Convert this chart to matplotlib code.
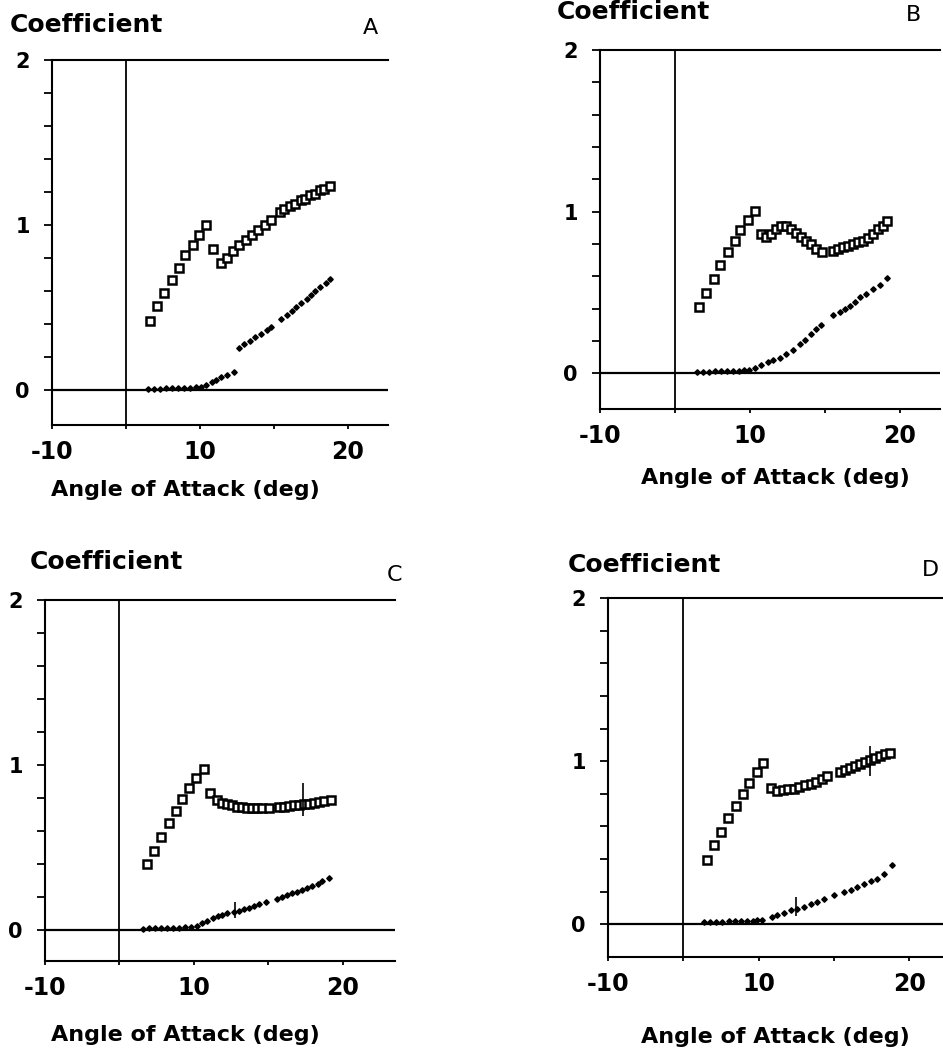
import numpy as np
import matplotlib
matplotlib.use('Agg')
import matplotlib.pyplot as plt

# lift (squares) and drag (small dots) coefficient vs angle of attack, four cases

x_ticks = [0, 5, 10, 15, 20]
x_tick_labels = ['-10', '', '10', '', '20']
y_ticks = [0, 1, 2]
y_tick_labels = ['0', '1', '2']
panel_names = ['A', 'B', 'C', 'D']

# panel A
a_cl_x = [6.6, 7.1, 7.6, 8.1, 8.6, 9.0, 9.5, 9.9, 10.4, 10.9, 11.4, 11.8, 12.2, 12.6, 13.1,
          13.5, 13.9, 14.4, 14.8, 15.4, 15.7, 16.1, 16.4, 16.8, 17.1, 17.4, 17.8, 18.1, 18.4, 18.8]
a_cl_y = [0.42, 0.51, 0.59, 0.67, 0.74, 0.82, 0.88, 0.94, 1.00, 0.855, 0.77, 0.80, 0.845, 0.88, 0.91,
          0.94, 0.97, 1.00, 1.03, 1.08, 1.10, 1.115, 1.13, 1.15, 1.16, 1.18, 1.19, 1.21, 1.22, 1.24]
a_cd_x = [6.5, 6.9, 7.3, 7.7, 8.1, 8.5, 8.9, 9.3, 9.7, 10.1, 10.4, 10.8, 11.1, 11.45, 11.8, 12.3,
          12.6, 13.0, 13.4, 13.7, 14.1, 14.5, 14.8,
          15.5, 15.9, 16.2, 16.5, 16.8, 17.2, 17.5, 17.8, 18.1, 18.5, 18.8]
a_cd_y = [0.01, 0.01, 0.01, 0.012, 0.012, 0.014, 0.015, 0.016, 0.018, 0.02, 0.035, 0.05, 0.06, 0.08, 0.09, 0.11,
          0.256, 0.279, 0.30, 0.32, 0.343, 0.364, 0.384,
          0.434, 0.459, 0.483, 0.505, 0.529, 0.553, 0.576, 0.60, 0.624, 0.647, 0.671]

# panel B
b_cl_x = [6.62, 7.11, 7.6, 8.04, 8.53, 8.98, 9.38, 9.89, 10.33, 10.78, 11.1, 11.44, 11.78, 12.1, 12.44,
          12.78, 13.1, 13.44, 13.78, 14.1, 14.44, 14.84, 15.56, 15.9, 16.2, 16.56, 16.9, 17.2, 17.56,
          17.9, 18.2, 18.56, 18.9, 19.15]
b_cl_y = [0.41, 0.50, 0.586, 0.67, 0.75, 0.82, 0.885, 0.947, 1.005, 0.86, 0.845, 0.865, 0.89, 0.91, 0.91,
          0.895, 0.87, 0.845, 0.82, 0.80, 0.77, 0.75, 0.76, 0.77, 0.78, 0.79, 0.80, 0.81, 0.82,
          0.84, 0.865, 0.89, 0.91, 0.94]
b_cd_x = [6.5, 6.9, 7.3, 7.7, 8.1, 8.5, 8.9, 9.3, 9.6, 9.97, 10.33, 10.78, 11.22, 11.56, 12.0, 12.44,
          12.9, 13.33, 13.67, 14.1, 14.44, 14.78, 15.56, 16.0, 16.33, 16.67, 17.0, 17.33, 17.78,
          18.2, 18.67, 19.15]
b_cd_y = [0.008, 0.01, 0.01, 0.012, 0.013, 0.015, 0.016, 0.018, 0.02, 0.023, 0.033, 0.054, 0.07, 0.08, 0.097, 0.118,
          0.142, 0.184, 0.209, 0.246, 0.272, 0.30, 0.36, 0.38, 0.40, 0.42, 0.44, 0.47, 0.49,
          0.52, 0.545, 0.59]

# panel C
c_cl_x = [6.85, 7.3, 7.79, 8.31, 8.8, 9.2, 9.7, 10.17, 10.66, 11.11, 11.56, 11.9, 12.24, 12.57, 12.9,
          13.24, 13.58, 13.92, 14.25, 14.59, 15.04, 15.71, 16.05, 16.39, 16.72, 17.06, 17.4, 17.7,
          18.07, 18.4, 18.74, 19.2]
c_cl_y = [0.397, 0.48, 0.565, 0.645, 0.72, 0.79, 0.86, 0.92, 0.977, 0.83, 0.785, 0.77, 0.76, 0.755, 0.747,
          0.745, 0.74, 0.74, 0.74, 0.74, 0.74, 0.745, 0.747, 0.75, 0.755, 0.755, 0.76, 0.765,
          0.77, 0.775, 0.78, 0.785]
c_cd_x = [6.6, 7.0, 7.4, 7.8, 8.2, 8.6, 9.0, 9.4, 9.8, 10.2, 10.57, 10.9, 11.3, 11.6, 11.9, 12.25,
          12.66, 13.0, 13.34, 13.68, 14.0, 14.36, 14.81, 15.6, 15.94, 16.27, 16.6, 16.94, 17.28,
          17.6, 17.95, 18.3, 18.6, 19.1]
c_cd_y = [0.007, 0.008, 0.009, 0.01, 0.011, 0.012, 0.013, 0.015, 0.017, 0.02, 0.04, 0.053, 0.068, 0.08, 0.09, 0.10,
          0.108, 0.114, 0.124, 0.134, 0.145, 0.155, 0.165, 0.185, 0.20, 0.21, 0.22, 0.23, 0.24,
          0.25, 0.265, 0.28, 0.296, 0.316]
c_err_x = [17.33, 12.73]
c_err_y = [0.79, 0.12]
c_err_h = [0.10, 0.05]

# panel D
d_cl_x = [6.55, 7.04, 7.49, 7.99, 8.48, 8.95, 9.37, 9.88, 10.32, 10.81, 11.21, 11.61, 11.98, 12.36, 12.71,
          13.09, 13.47, 13.82, 14.2, 14.57, 15.41, 15.75, 16.08, 16.41, 16.74, 17.08, 17.41, 17.74,
          18.07, 18.4, 18.74]
d_cl_y = [0.397, 0.485, 0.567, 0.652, 0.724, 0.798, 0.867, 0.935, 0.99, 0.838, 0.816, 0.822, 0.828, 0.832, 0.843,
          0.853, 0.863, 0.873, 0.888, 0.908, 0.935, 0.945, 0.96, 0.971, 0.982, 0.996, 1.006, 1.02,
          1.03, 1.043, 1.05]
d_cd_x = [6.4, 6.8, 7.2, 7.6, 8.0, 8.4, 8.8, 9.2, 9.6, 9.9, 10.25, 10.9, 11.24, 11.68, 12.13, 12.57,
          13.0, 13.46, 13.9, 14.35, 15.0, 15.65, 16.1, 16.54, 17.0, 17.43, 17.87, 18.3, 18.86]
d_cd_y = [0.014, 0.015, 0.016, 0.017, 0.018, 0.019, 0.02, 0.021, 0.022, 0.024, 0.025, 0.045, 0.06, 0.072, 0.086, 0.096,
          0.106, 0.123, 0.137, 0.153, 0.178, 0.198, 0.213, 0.229, 0.245, 0.264, 0.28, 0.311, 0.362]
d_err_x = [17.37, 12.49]
d_err_y = [1.0, 0.11]
d_err_h = [0.09, 0.057]

W, H = 943, 1061
fig = plt.figure(figsize=(W / 100, H / 100), dpi=100)
plt.rcParams['font.family'] = 'DejaVu Sans'


def px(x, y):
    return x / W, 1 - y / H


def make_panel(left, top, right, bottom, xmax, ymin):
    ax = fig.add_axes([left / W, 1 - bottom / H, (right - left) / W, (bottom - top) / H])
    ax.set_xlim(0, xmax)
    ax.set_ylim(ymin, 2)
    ax.spines['right'].set_visible(False)
    for s in ['left', 'top', 'bottom']:
        ax.spines[s].set_linewidth(1.5)
    ax.axhline(0, color='black', lw=1.6)
    ax.axvline(5, color='black', lw=1.3)
    ax.set_xticks(x_ticks)
    ax.set_xticklabels(x_tick_labels, fontsize=17, fontweight='bold')
    ax.set_yticks(y_ticks)
    ax.set_yticklabels(y_tick_labels, fontsize=15, fontweight='bold')
    ax.set_yticks(np.arange(0.2, 2.0, 0.2), minor=True)
    ax.tick_params(axis='y', which='both', direction='out', length=6, width=1.3, pad=10)
    ax.tick_params(axis='x', direction='out', length=3, width=1.3, pad=8)
    return ax


def draw(ax, cl_x, cl_y, cd_x, cd_y):
    ax.plot(cl_x, cl_y, ls='none', marker='s', ms=5.5, mfc='white', mec='black', mew=1.8)
    ax.plot(cd_x, cd_y, ls='none', marker='D', ms=2.8, color='black')


ax_a = make_panel(52, 60, 388, 425, 22.7, -0.21)
draw(ax_a, a_cl_x, a_cl_y, a_cd_x, a_cd_y)

ax_b = make_panel(600, 50, 940, 409, 22.7, -0.22)
draw(ax_b, b_cl_x, b_cl_y, b_cd_x, b_cd_y)

ax_c = make_panel(45, 600, 395, 961, 23.5, -0.19)
draw(ax_c, c_cl_x, c_cl_y, c_cd_x, c_cd_y)
ax_c.errorbar(c_err_x, c_err_y, yerr=c_err_h, fmt='none', ecolor='black', elinewidth=1.2, capsize=0)

ax_d = make_panel(608, 598, 962, 957, 23.5, -0.2)
draw(ax_d, d_cl_x, d_cl_y, d_cd_x, d_cd_y)
ax_d.errorbar(d_err_x, d_err_y, yerr=d_err_h, fmt='none', ecolor='black', elinewidth=1.2, capsize=0)

# titles, panel letters and x labels (placed in pixel coords)
coef_pos = [(10, 25), (557, 12), (30, 562), (568, 565)]
letter_pos = [(370, 28), (913, 15), (395, 575), (930, 570)]
xlabel_pos = [(185, 490), (775, 478), (185, 1035), (775, 1037)]
for name, cp, lp, xp in zip(panel_names, coef_pos, letter_pos, xlabel_pos):
    fig.text(*px(*cp), 'Coefficient', fontsize=18, fontweight='bold', ha='left', va='center')
    fig.text(*px(*lp), name, fontsize=16, ha='center', va='center')
    fig.text(*px(*xp), 'Angle of Attack (deg)', fontsize=16, fontweight='bold', ha='center', va='center')

fig.savefig('out.png', dpi=100)
